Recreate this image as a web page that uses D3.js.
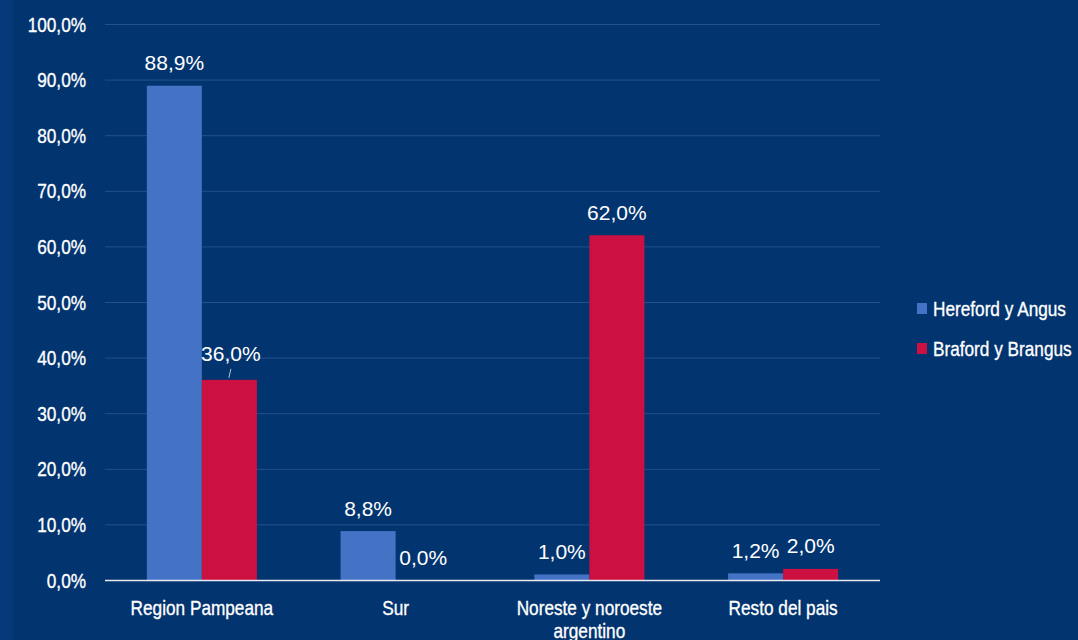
<!DOCTYPE html>
<html>
<head>
<meta charset="utf-8" />
<script src="https://d3js.org/d3.v7.min.js"></script>
<style>
  body { margin: 0; background: #02346f; }
  svg { display: block; }
</style>
</head>
<body>
<svg></svg>
<script>
const categories = ['Region Pampeana', 'Sur', 'Noreste y noroeste argentino', 'Resto del pais'];
const seriesNames = ['Hereford y Angus', 'Braford y Brangus'];
const hereford = [88.9, 8.8, 1.0, 1.2];
const braford = [36.0, 0.0, 62.0, 2.0];
const yTicks = [0, 10, 20, 30, 40, 50, 60, 70, 80, 90, 100];
const colors = ['#4472c4', '#cc1142'];

const W = 1078, H = 640;
const mLeft = 105, mRight = 880, mTop = 24, mBottom = 580;
const sans = '"Liberation Sans", Arial, sans-serif';
const squeeze = 0.82;   // fake Arial Narrow
const fmt = v => v.toFixed(1).replace('.', ',') + '%';

const svg = d3.select('svg').attr('width', W).attr('height', H);
svg.append('rect').attr('width', W).attr('height', H).attr('fill', '#02346f');
svg.append('rect').attr('width', 13).attr('height', H).attr('fill', '#053a7a');

// narrow text at (x, y)
function narrowText(parent, x, y, txt, anchor) {
  return parent.append('text')
    .attr('transform', `translate(${x},${y}) scale(${squeeze},1)`)
    .attr('text-anchor', anchor || 'start')
    .attr('fill', '#fff')
    .attr('font-family', sans)
    .attr('font-size', 21)
    .attr('stroke', '#fff').attr('stroke-width', 0.35)
    .text(txt);
}

const y = d3.scaleLinear().domain([0, 100]).range([mBottom, mTop]);
const x = d3.scaleBand().domain(categories).range([mLeft, mRight]);
const xs = d3.scaleBand().domain(seriesNames).range([0, x.bandwidth()]).paddingOuter(0.76).paddingInner(0);

// grid
svg.append('g')
  .attr('transform', `translate(${mLeft},0)`)
  .call(d3.axisLeft(y).tickValues(yTicks).tickSize(-(mRight - mLeft)).tickFormat(''))
  .call(g => g.select('.domain').remove())
  .call(g => g.selectAll('line').attr('stroke', '#24518a').attr('stroke-width', 1));

// y labels
const yl = svg.append('g');
yTicks.forEach(t => narrowText(yl, 86, y(t) + 7.5, fmt(t), 'end'));

const data = categories.map((c, i) => ({ c, vals: [hereford[i], braford[i]] }));

const groups = svg.selectAll('.grp').data(data).enter().append('g')
  .attr('transform', d => `translate(${x(d.c)},0)`);

groups.selectAll('rect').data(d => d.vals.map((v, j) => ({ v, s: seriesNames[j], j })))
  .enter().append('rect')
  .attr('x', d => xs(d.s))
  .attr('width', xs.bandwidth())
  .attr('y', d => y(d.v))
  .attr('height', d => mBottom - y(d.v))
  .attr('fill', d => colors[d.j]);

// value labels
groups.selectAll('.lbl').data(d => d.vals.map((v, j) => ({ v, s: seriesNames[j], j, c: d.c })))
  .enter().append('text')
  .attr('x', d => xs(d.s) + xs.bandwidth() / 2 + (d.c === 'Region Pampeana' && d.j === 1 ? 1.5 : 0))
  .attr('y', d => y(d.v) - (d.c === 'Region Pampeana' && d.j === 1 ? 19 : 15.5))
  .attr('text-anchor', 'middle')
  .attr('fill', '#fff')
  .attr('font-family', sans)
  .attr('font-size', 21)
  .text(d => fmt(d.v));

// leader line for the 36,0% label
const pc = 'Region Pampeana';
const lx = x(pc) + xs(seriesNames[1]) + xs.bandwidth() / 2;
svg.append('line')
  .attr('x1', lx + 1.5).attr('x2', lx - 0.5)
  .attr('y1', y(braford[0]) - 11).attr('y2', y(braford[0]) - 2)
  .attr('stroke', '#b8c4d6').attr('stroke-width', 1);

// x axis
svg.append('line').attr('x1', mLeft).attr('x2', mRight).attr('y1', mBottom + 0.5).attr('y2', mBottom + 0.5)
  .attr('stroke', '#e8ecf2').attr('stroke-width', 1.5);

const xl = svg.append('g');
categories.forEach(c => {
  const lines = c === 'Noreste y noroeste argentino' ? ['Noreste y noroeste', 'argentino'] : [c];
  lines.forEach((l, i) => narrowText(xl, x(c) + x.bandwidth() / 2, 615 + i * 23, l, 'middle'));
});

// legend
const legend = svg.append('g');
seriesNames.forEach((s, i) => {
  const ly = 308.5 + i * 40;
  legend.append('rect').attr('x', 917).attr('y', ly - 5.5).attr('width', 10).attr('height', 11).attr('fill', colors[i]);
  narrowText(legend, 933, ly + 7.5, s, 'start');
});
</script>
</body>
</html>
